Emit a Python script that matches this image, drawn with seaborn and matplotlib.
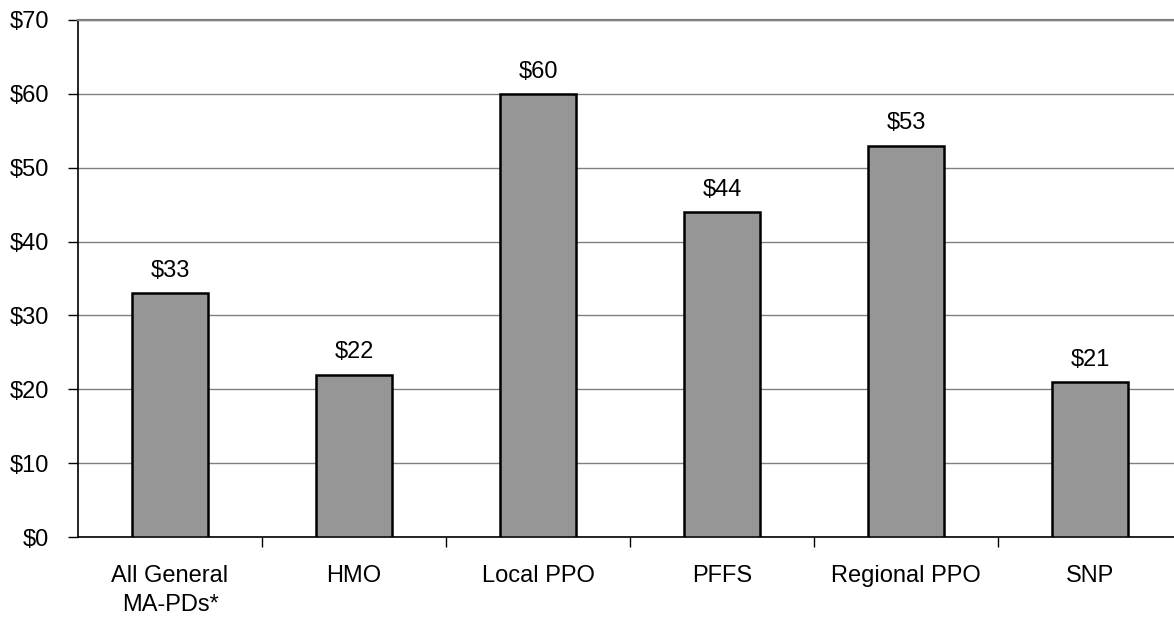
import matplotlib.pyplot as plt
import seaborn as sns
from matplotlib.ticker import FixedLocator, FuncFormatter

# === DATA ===
CATEGORIES = ["All General\nMA-PDs*", "HMO", "Local PPO", "PFFS", "Regional PPO", "SNP"]
VALUES = [33, 22, 60, 44, 53, 21]
Y_TICKS = [0, 10, 20, 30, 40, 50, 60, 70]

FS = 17

sns.set_theme(style="white")
plt.rcParams["font.family"] = ["Liberation Sans", "DejaVu Sans"]

fig = plt.figure(figsize=(11.74, 6.18), dpi=100)
ax = fig.add_axes([78 / 1174, 1 - 537 / 618, (1182 - 78) / 1174, (537 - 20) / 618])

sns.barplot(x=CATEGORIES, y=VALUES, color="#969696", saturation=1, width=0.41,
            edgecolor="black", linewidth=1.8, ax=ax, zorder=3)

ax.set_ylim(0, 70)
ax.set_xlim(-0.5, len(CATEGORIES) - 0.5)
ax.set_yticks(Y_TICKS)
ax.yaxis.set_major_formatter(FuncFormatter(lambda v, _: f"${v:.0f}"))
ax.yaxis.grid(True, color="#808080", linewidth=1, zorder=0)
ax.set_axisbelow(True)

for i, v in enumerate(VALUES):
    ax.annotate(f"${v}", (i, v), xytext=(0, 8), textcoords="offset points",
                ha="center", va="bottom", fontsize=FS, color="black")

ax.spines["right"].set_visible(False)
ax.spines["top"].set_color("#808080")
ax.spines["top"].set_linewidth(1.6)
ax.spines["left"].set_color("black")
ax.spines["bottom"].set_color("black")
ax.spines["left"].set_linewidth(1.2)
ax.spines["bottom"].set_linewidth(1.2)

ax.xaxis.set_minor_locator(FixedLocator([i + 0.5 for i in range(len(CATEGORIES) - 1)]))
ax.tick_params(axis="x", which="major", length=0, pad=20, labelsize=FS, colors="black")
ax.tick_params(axis="x", which="minor", bottom=True, length=7, width=1, color="black")
ax.tick_params(axis="y", left=True, length=7, width=1, pad=14, labelsize=FS,
               colors="black")
ax.set_xticks(range(len(CATEGORIES)))
ax.set_xticklabels(CATEGORIES, linespacing=1.45)
ax.set_xlabel("")
ax.set_ylabel("")

plt.savefig("out.png", dpi=100)
plt.close()
